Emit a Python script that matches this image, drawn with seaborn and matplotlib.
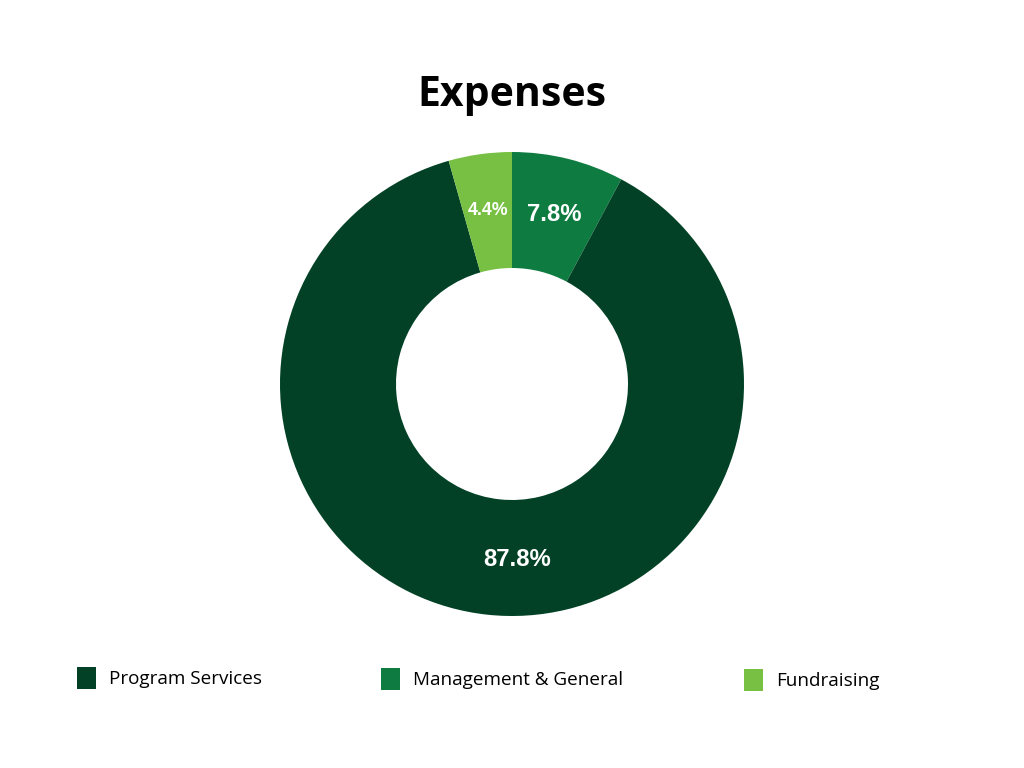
import matplotlib
matplotlib.use("Agg")
import matplotlib.pyplot as plt
import seaborn as sns
from matplotlib.patches import Patch
from matplotlib import font_manager as fm

sns.set_theme(style="white")
plt.rcParams['font.family'] = ['Open Sans', 'DejaVu Sans']

# Data (clockwise from 12 o'clock)
pie_categories = ["Management & General", "Program Services", "Fundraising"]
pie_values = [7.8, 87.8, 4.4]
pie_colors = ["#0e7c41", "#024125", "#77c043"]

legend_categories = ["Program Services", "Management & General", "Fundraising"]
legend_colors = ["#024125", "#0e7c41", "#77c043"]

# find an Arial-like bold font file (Liberation Sans Bold, not Narrow)
label_font_file = None
for f in fm.fontManager.ttflist:
    if f.name == "Liberation Sans" and f.weight in (700, "bold") and f.style == "normal":
        if "Narrow" not in f.fname:
            label_font_file = f.fname
            break

fig = plt.figure(figsize=(10.24, 7.68), dpi=100)
fig.patch.set_facecolor("white")

W, H = 1024, 768
cx, cy, R = 512, 384, 232
ax = fig.add_axes([(cx - R) / W, (H - cy - R) / H, 2 * R / W, 2 * R / H])

wedges, texts, autotexts = ax.pie(
    pie_values,
    colors=pie_colors,
    startangle=90,
    counterclock=False,
    radius=1,
    wedgeprops=dict(width=0.5, edgecolor="none"),
    autopct=lambda p: f"{p:.1f}%",
    pctdistance=0.755,
)
sizes = [17.2, 17.2, 12.8]
for t, s in zip(autotexts, sizes):
    t.set_color("white")
    if label_font_file:
        t.set_fontproperties(fm.FontProperties(fname=label_font_file, size=s))
    else:
        t.set_fontweight("bold")
        t.set_fontsize(s)
# nudge labels as in reference
autotexts[0].set_position((0.2, -0.0) if False else autotexts[0].get_position())
autotexts[1].set_position((0.02, -0.755))
ax.set_xlim(-1, 1)
ax.set_ylim(-1, 1)
ax.set_aspect("equal")
ax.axis("off")

fig.text(0.5, 1 - 96 / H, "Expenses", ha="center", va="center",
         fontsize=29.5, fontweight="bold", color="black")

# legend entries placed individually
leg_x = [77, 381, 744]
leg_y = [678, 679, 680]
for name, col, x, y in zip(legend_categories, legend_colors, leg_x, leg_y):
    leg = fig.legend(
        handles=[Patch(facecolor=col, edgecolor="none")],
        labels=[name],
        loc="center left",
        bbox_to_anchor=(x / W, 1 - y / H),
        frameon=False,
        fontsize=13.6,
        handlelength=1.0,
        handleheight=1.4,
        handletextpad=0.72,
        borderpad=0,
        borderaxespad=0,
    )
    for t in leg.get_texts():
        t.set_color("black")

fig.savefig("out.png", dpi=100, facecolor="white")
